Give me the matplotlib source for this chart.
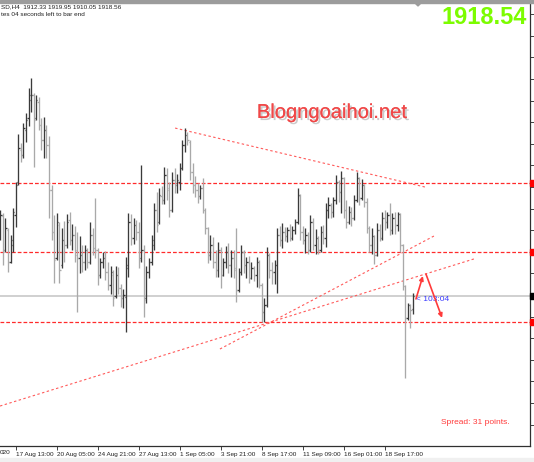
import numpy as np
import matplotlib
matplotlib.use("Agg")
import matplotlib.pyplot as plt
from matplotlib import patheffects
from matplotlib.patches import Rectangle, Polygon
from matplotlib.transforms import blended_transform_factory

# XAUUSD H4 bars
opens = [1946.8, 1955.5, 1939.9, 1949.1, 1934.3, 1942.2, 1956.1, 1971.3, 1986.2, 1983.8,
         1995.4, 2001.0, 2009.3, 2011.6, 2001.0, 2008.4, 1997.7, 1990.8, 1995.4, 1988.5,
         1967.6, 1948.2, 1936.1, 1951.4, 1932.9, 1944.5, 1942.2, 1953.7, 1944.5, 1946.8,
         1939.9, 1936.1, 1937.5, 1934.3, 1939.9, 1934.3, 1946.8, 1940.8, 1939.9, 1928.3,
         1934.3, 1936.1, 1929.7, 1923.6, 1928.3, 1918.5, 1928.3, 1922.3, 1917.6, 1918.1,
         1931.5, 1952.8, 1945.4, 1951.4, 1948.2, 1936.1, 1939.9, 1917.6, 1929.7, 1934.3,
         1942.2, 1958.4, 1952.8, 1964.9, 1963.0, 1974.6, 1968.6, 1958.4, 1972.3, 1969.9,
         1971.3, 1977.8, 1988.5, 1993.1, 1989.9, 1976.0, 1969.9, 1967.6, 1964.9, 1968.6,
         1958.4, 1950.0, 1937.5, 1942.2, 1934.3, 1930.6, 1939.9, 1928.3, 1934.3, 1938.9,
         1932.9, 1936.1, 1931.5, 1921.3, 1929.7, 1938.9, 1932.9, 1934.3, 1926.9, 1931.5,
         1928.3, 1934.3, 1923.6, 1911.1, 1914.4, 1937.5, 1930.6, 1929.7, 1932.9, 1946.8,
         1944.5, 1948.2, 1946.3, 1949.1, 1945.4, 1949.1, 1952.8, 1964.9, 1948.2, 1944.5,
         1946.8, 1939.9, 1952.8, 1942.2, 1945.4, 1939.9, 1948.2, 1945.4, 1958.4, 1960.7,
         1957.4, 1963.0, 1971.3, 1966.7, 1973.2, 1958.4, 1952.8, 1957.4, 1954.7, 1963.0,
         1973.2, 1963.9, 1969.9, 1962.1, 1950.0, 1942.2, 1946.3, 1937.5, 1949.1, 1945.4,
         1954.7, 1952.8, 1956.1, 1949.1, 1954.7, 1951.4, 1956.5, 1942.2, 1923.2, 1908.3,
         1914.4, 1912.33]
highs = [1958.4, 1957.0, 1954.7, 1950.0, 1946.8, 1959.3, 1971.3, 1993.6, 1989.4, 1998.6,
         2003.3, 2014.9, 2019.5, 2012.5, 2011.6, 2010.7, 2001.0, 2001.4, 1997.7, 1992.6,
         1969.9, 1956.1, 1957.0, 1952.8, 1950.0, 1953.3, 1956.5, 1957.4, 1951.9, 1951.0,
         1948.2, 1946.3, 1942.2, 1942.2, 1940.8, 1952.8, 1950.0, 1963.9, 1940.8, 1936.1,
         1938.9, 1939.4, 1934.3, 1932.5, 1930.6, 1932.5, 1932.0, 1924.1, 1921.8, 1936.6,
         1957.0, 1956.5, 1954.7, 1953.7, 1952.8, 1979.2, 1942.2, 1932.5, 1936.1, 1946.8,
         1961.6, 1966.7, 1968.6, 1969.5, 1978.3, 1977.8, 1971.3, 1976.0, 1977.8, 1975.0,
         1980.1, 1990.8, 1996.3, 1994.5, 1990.8, 1980.1, 1974.1, 1970.9, 1969.9, 1973.2,
         1959.3, 1950.5, 1946.8, 1945.9, 1939.9, 1943.6, 1941.2, 1936.1, 1941.7, 1943.1,
         1939.9, 1939.9, 1950.0, 1931.5, 1942.2, 1939.9, 1936.6, 1937.1, 1934.3, 1932.5,
         1936.6, 1935.2, 1924.6, 1917.6, 1941.2, 1938.4, 1934.3, 1935.2, 1950.0, 1951.0,
         1952.4, 1950.5, 1950.5, 1951.9, 1951.0, 1954.2, 1968.6, 1965.8, 1951.0, 1950.0,
         1948.2, 1956.1, 1954.7, 1949.6, 1946.3, 1951.0, 1951.4, 1961.6, 1964.4, 1961.6,
         1964.4, 1974.6, 1972.3, 1976.4, 1973.7, 1963.0, 1960.2, 1959.8, 1965.3, 1976.0,
         1973.7, 1972.8, 1970.5, 1963.9, 1951.0, 1950.0, 1946.8, 1952.4, 1951.9, 1957.4,
         1958.4, 1957.4, 1961.6, 1957.0, 1957.4, 1957.4, 1957.0, 1942.6, 1923.6, 1915.3,
         1914.8, 1919.95]
lows = [1944.5, 1932.9, 1938.9, 1929.7, 1933.8, 1938.9, 1950.5, 1969.9, 1980.6, 1982.4,
        1989.9, 1997.3, 2003.7, 1978.3, 2000.0, 1995.4, 1986.2, 1982.4, 1982.4, 1954.7,
        1944.5, 1924.6, 1935.2, 1924.6, 1931.5, 1934.3, 1940.8, 1942.2, 1939.9, 1934.3,
        1911.1, 1929.2, 1929.7, 1930.6, 1931.5, 1933.4, 1937.5, 1936.1, 1923.6, 1926.9,
        1931.5, 1926.0, 1921.3, 1919.5, 1913.9, 1917.6, 1919.5, 1913.5, 1913.0, 1901.9,
        1927.4, 1942.2, 1942.6, 1944.5, 1931.5, 1934.3, 1908.8, 1915.3, 1926.9, 1932.9,
        1939.9, 1948.2, 1951.9, 1961.1, 1961.1, 1963.0, 1955.1, 1957.4, 1966.2, 1966.2,
        1967.6, 1976.9, 1985.2, 1988.5, 1972.3, 1966.2, 1964.4, 1961.6, 1963.5, 1957.0,
        1947.3, 1933.8, 1935.2, 1931.5, 1927.4, 1927.4, 1922.3, 1927.8, 1931.5, 1929.2,
        1927.4, 1926.9, 1915.8, 1920.4, 1928.3, 1929.2, 1926.9, 1924.6, 1926.4, 1925.5,
        1922.8, 1922.3, 1906.5, 1906.5, 1913.5, 1926.9, 1924.1, 1924.1, 1919.9, 1941.7,
        1940.8, 1944.0, 1943.6, 1944.0, 1944.5, 1947.3, 1951.9, 1944.5, 1942.6, 1938.4,
        1937.9, 1938.9, 1939.9, 1937.9, 1937.9, 1938.9, 1942.6, 1941.2, 1954.7, 1954.7,
        1955.1, 1961.1, 1962.1, 1957.0, 1954.7, 1950.0, 1951.9, 1951.0, 1953.7, 1962.1,
        1960.7, 1963.0, 1959.8, 1947.7, 1938.9, 1937.9, 1933.4, 1937.1, 1944.0, 1944.5,
        1949.1, 1950.0, 1946.8, 1947.3, 1947.3, 1948.6, 1938.9, 1921.3, 1880.6, 1907.4,
        1903.7, 1910.05]
closes = [1956.1, 1939.9, 1950.0, 1934.3, 1944.5, 1957.4, 1969.9, 1987.1, 1983.8, 1996.3,
          2000.0, 2011.6, 2011.6, 2000.0, 2009.3, 1997.7, 1990.8, 1995.4, 1988.5, 1967.6,
          1948.2, 1935.2, 1952.8, 1930.6, 1944.5, 1942.2, 1952.8, 1944.5, 1946.8, 1937.5,
          1936.1, 1937.5, 1934.3, 1939.9, 1934.3, 1946.8, 1940.8, 1939.9, 1928.3, 1934.3,
          1936.1, 1929.7, 1923.6, 1929.7, 1917.6, 1928.3, 1922.3, 1917.6, 1919.0, 1932.9,
          1952.8, 1945.4, 1951.4, 1948.2, 1935.2, 1939.9, 1916.7, 1929.7, 1934.3, 1944.5,
          1958.4, 1951.4, 1965.3, 1963.0, 1974.6, 1967.6, 1958.4, 1972.3, 1969.9, 1972.3,
          1977.8, 1988.5, 1993.1, 1990.8, 1976.0, 1969.9, 1967.6, 1964.9, 1968.6, 1958.4,
          1950.0, 1937.5, 1942.2, 1934.3, 1930.6, 1939.9, 1928.3, 1934.3, 1938.9, 1932.9,
          1936.1, 1930.6, 1921.3, 1929.7, 1938.9, 1932.9, 1934.3, 1926.9, 1931.5, 1928.3,
          1934.3, 1923.6, 1911.1, 1914.4, 1937.5, 1930.6, 1929.7, 1932.9, 1946.8, 1944.5,
          1948.2, 1946.3, 1949.1, 1945.4, 1949.1, 1952.8, 1965.3, 1948.2, 1944.5, 1946.8,
          1939.9, 1952.8, 1942.2, 1945.4, 1939.9, 1948.2, 1945.4, 1958.4, 1960.7, 1957.4,
          1963.0, 1971.3, 1966.7, 1973.2, 1958.4, 1952.8, 1957.4, 1954.7, 1963.0, 1973.2,
          1963.9, 1969.9, 1962.1, 1950.0, 1942.2, 1946.3, 1937.5, 1949.1, 1945.4, 1954.7,
          1952.8, 1956.1, 1949.1, 1954.7, 1951.4, 1956.5, 1942.2, 1923.2, 1908.3, 1914.4,
          1912.1, 1918.56]

# time axis labels (bar index of each label)
date_ticks = [6, 22, 38, 54, 70, 86, 102, 118, 134, 150]
date_labels = ["17 Aug 13:00", "20 Aug 05:00", "24 Aug 21:00", "27 Aug 13:00", "1 Sep 05:00",
               "3 Sep 21:00", "8 Sep 17:00", "11 Sep 09:00", "16 Sep 01:00", "18 Sep 17:00"]

# drawn objects: horizontal levels, trend lines, arrows
levels = [1970.9, 1938.9, 1906.5]
bid = 1918.54
trend_lines = [[(68.2, 1996.3), (165.7, 1969.0)],
               [(-0.13, 1867.6), (184.8, 1935.7)],
               [(85.7, 1894.0), (170.0, 1946.8)]]
arrows = [[(162.2, 1917.2), (164.9, 1927.8)],
          [(166.1, 1928.7), (172.4, 1908.4)]]
timer_pos = (162.4, 1916.7)

plt.rcParams['font.family'] = ['Liberation Sans', 'DejaVu Sans']

W, H = 534, 462
fig = plt.figure(figsize=(W / 100, H / 100), dpi=100)
ax = fig.add_axes([0, 16 / H, 530 / W, 443 / H])

x = np.arange(len(closes))
o = np.array(opens); c = np.array(closes)
col = np.where(c >= o, '#3a3a3a', '#a9a9a9')

# levels and bid line under the bars
ax.axhline(bid, color='#cdcdcd', lw=1.3, zorder=0.5)
for lv in levels:
    ax.axhline(lv, color='#ff2b2b', lw=0.9, ls=(0, (3, 1.6)), zorder=1)
for (x0, y0), (x1, y1) in trend_lines:
    ax.plot([x0, x1], [y0, y1], color='#ff5a5a', lw=0.8, ls=(0, (2.2, 2.2)), zorder=1)

ax.vlines(x, lows, highs, colors=col, lw=0.95, zorder=2)
ax.hlines(opens, x - 0.5, x, colors=col, lw=0.95, zorder=2)
ax.hlines(closes, x, x + 0.5, colors=col, lw=0.95, zorder=2)

for start, end in arrows:
    ax.annotate('', xy=end, xytext=start,
                arrowprops=dict(arrowstyle='-|>', color='#ff3a3a', lw=1.2,
                                mutation_scale=6, shrinkA=0, shrinkB=0), zorder=4)
ax.text(timer_pos[0], timer_pos[1], '< 103:04', color='#3a3aff', fontsize=6,
        ha='left', va='center', zorder=3)

# price markers on the right scale
btr = blended_transform_factory(ax.transAxes, ax.transData)
for lv in levels:
    ax.add_patch(Rectangle((1.0, lv - 1.2), 0.008, 2.4, transform=btr,
                           color='#ff0000', clip_on=False, zorder=5))
ax.add_patch(Rectangle((1.0, bid - 1.2), 0.008, 2.4, transform=btr,
                       color='#000000', clip_on=False, zorder=5))

ax.set_xlim(-0.13, 206.7)
ax.set_ylim(1849.1, 2054.2)

ax.spines['left'].set_visible(False)
ax.spines['top'].set_visible(False)
ax.spines['right'].set_color('#303030')
ax.spines['bottom'].set_color('#303030')
ax.spines['right'].set_linewidth(0.9)
ax.spines['bottom'].set_linewidth(0.9)

ax.yaxis.tick_right()
ax.set_yticks(np.arange(1859, 2050, 10))
ax.tick_params(axis='y', direction='out', length=3, width=0.7, color='#404040',
               labelright=False, labelleft=False)
ax.set_xticks(date_ticks)
ax.set_xticklabels(date_labels, fontsize=4.6, color='#202020', ha='left')
ax.tick_params(axis='x', direction='out', length=3, width=0.7, color='#404040', pad=1.5)

# window frame bits
fig.patches.append(Rectangle((0, 1 - 3 / H), 1, 3 / H, transform=fig.transFigure,
                             color='#9c9c9c', zorder=0))
fig.patches.append(Rectangle((0, 0), 1, 4 / H, transform=fig.transFigure,
                             color='#f0f0f0', zorder=0))
fig.patches.append(Polygon([(415 / W, 1 - 3 / H), (421 / W, 1 - 3 / H), (418 / W, 1 - 6 / H)],
                           closed=True, transform=fig.transFigure, color='#9c9c9c'))

fig.text(1 / W, 1 - 6.5 / H, 'SD,H4  1912.33 1919.95 1910.05 1918.56', fontsize=4.6,
         color='#202020', ha='left', va='center')
fig.text(1 / W, 1 - 15 / H, 'tes 04 seconds left to bar end', fontsize=4.6,
         color='#202020', ha='left', va='center')
fig.text(0 / W, 453 / H * 0 + (1 - 453 / H), '020', fontsize=4.6, color='#202020',
         ha='left', va='center')

fig.text(527 / W, 1 - 17 / H, '1918.54', fontsize=17, fontweight='bold',
         color='#7cfc00', ha='right', va='center')

fig.text(332 / W, 1 - 118 / H, 'Blogngoaihoi.net', fontsize=14.5, color='#f04848',
         ha='center', va='baseline',
         path_effects=[patheffects.withSimplePatchShadow(offset=(1.5, -1.5),
                                                         shadow_rgbFace='#999999', alpha=0.5),
                       patheffects.Normal()])

fig.text(441 / W, 1 - 423 / H, 'Spread: 31 points.', fontsize=6, color='#ff3b3b',
         ha='left', va='center')

fig.savefig('out.png', dpi=100)
